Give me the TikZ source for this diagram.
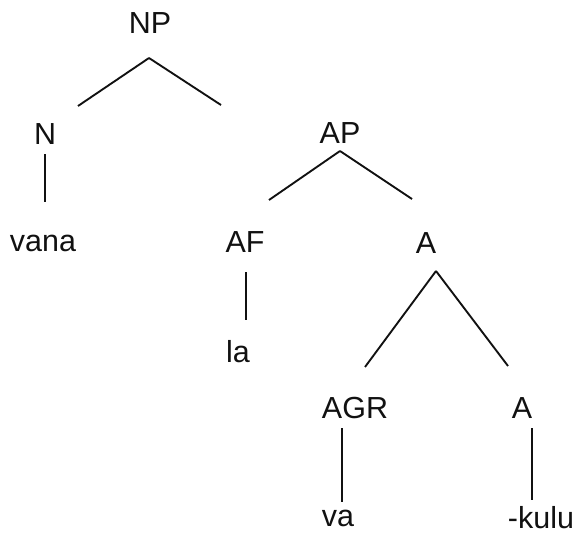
\documentclass[tikz,border=0pt]{standalone}
\usepackage{fontspec}
\setmainfont{Liberation Sans}
\definecolor{ink}{HTML}{111111}

\begin{document}
\begin{tikzpicture}[x=0.03cm,y=-0.03cm,font=\fontsize{26}{28}\selectfont,text=ink,
    cat/.style={inner sep=0pt},
    branch/.style={draw=ink,line width=1.6pt}]
  \path[fill=white] (0,0) rectangle (584,535);

  % categories and words
  \node[cat] (np)   at (150,23)  {NP};
  \node[cat] (n)    at (45,134)  {N};
  \node[cat] (vana) at (43,243)  {vana};
  \node[cat] (ap)   at (340,133) {AP};
  \node[cat] (af)   at (245,242) {AF};
  \node[cat] (la)   at (238,352) {la};
  \node[cat] (a)    at (426,243) {A};
  \node[cat] (agr)  at (355,408) {AGR};
  \node[cat] (va)   at (338,518) {va};
  \node[cat] (aa)   at (522,408) {A};
  \node[cat] (kulu) at (541,518) {-kulu};

  % branches
  \draw[branch] ([shift={(-1,35)}]np.center) -- ([shift={(33,-28)}]n.center);
  \draw[branch] ([shift={(-1,35)}]np.center) -- ([shift={(-119,-28)}]ap.center);
  \draw[branch] ([shift={(0,20)}]n.center) -- ([shift={(2,-41)}]vana.center);
  \draw[branch] ([shift={(0,18)}]ap.center) -- ([shift={(24,-42)}]af.center);
  \draw[branch] ([shift={(0,18)}]ap.center) -- ([shift={(-14,-44)}]a.center);
  \draw[branch] ([shift={(1,30)}]af.center) -- ([shift={(8,-32)}]la.center);
  \draw[branch] ([shift={(10,28)}]a.center) -- ([shift={(10,-41)}]agr.center);
  \draw[branch] ([shift={(10,28)}]a.center) -- ([shift={(-14,-42)}]aa.center);
  \draw[branch] ([shift={(-13,20)}]agr.center) -- ([shift={(4,-16)}]va.center);
  \draw[branch] ([shift={(10,20)}]aa.center) -- ([shift={(-9,-18)}]kulu.center);
\end{tikzpicture}
\end{document}
